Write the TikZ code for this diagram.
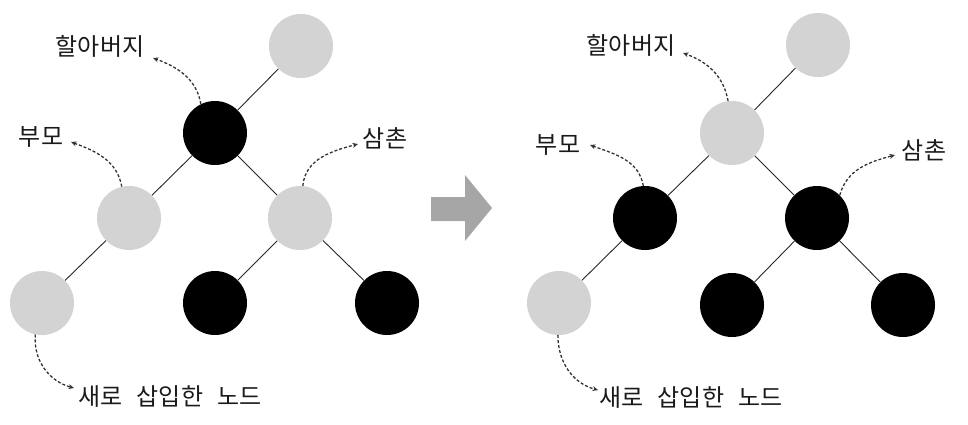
\documentclass[tikz,border=0pt]{standalone}
\usepackage{fontspec}
\newfontfamily\kr{Noto Sans CJK KR}
\usetikzlibrary{arrows.meta}
\definecolor{nodegray}{HTML}{D3D3D3}
\definecolor{arrowgray}{HTML}{A6A6A6}
\definecolor{dashcol}{HTML}{333333}
\definecolor{txtcol}{HTML}{1A1A1A}
\tikzset{
  rbnode/.style={circle, minimum size=64pt, inner sep=0pt, draw=none},
  blk/.style={rbnode, fill=black},
  gry/.style={rbnode, fill=nodegray},
  edge/.style={draw=black!85, line width=0.9pt},
  lbl/.style={font=\kr\fontsize{24}{28}\selectfont, text=txtcol, inner sep=0pt},
  dasharrow/.style={draw=dashcol, line width=1.3pt, dash pattern=on 3pt off 2pt,
    -{Stealth[length=5.5pt,width=5pt]}},
  bigarrow/.style={fill=arrowgray, draw=none}
}
\newcommand{\wsp}{\hspace{14pt}}
\begin{document}
\begin{tikzpicture}[x=1pt,y=1pt]
\useasboundingbox (0,0) rectangle (968,-424);
% ---------- left tree ----------
\node[gry] (Ltop) at (301,-46) {};
\node[blk] (Lgp)  at (215,-133) {};
\node[gry] (Lpar) at (129,-218) {};
\node[gry] (Lunc) at (300,-218) {};
\node[gry] (Lnew) at (42,-303) {};
\node[blk] (Lc1)  at (215,-303) {};
\node[blk] (Lc2)  at (387,-303) {};
\draw[edge] (Lgp) -- (Ltop);
\draw[edge] (Lgp) -- (Lpar);
\draw[edge] (Lgp) -- (Lunc);
\draw[edge] (Lpar) -- (Lnew);
\draw[edge] (Lunc) -- (Lc1);
\draw[edge] (Lunc) -- (Lc2);
\node[lbl] (LlGP)  at (100,-46) {할아버지};
\node[lbl] (LlPar) at (41,-137) {부모};
\node[lbl] (LlUnc) at (385,-138) {삼촌};
\node[lbl] (LlNew) at (170,-397) {새로\wsp 삽입한\wsp 노드};
\coordinate (LtGP)  at (153,-58);
\coordinate (LtPar) at (71,-142);
\coordinate (LtUnc) at (358,-144);
\coordinate (LtNew) at (74,-388);
\draw[dasharrow] (Lgp.116) to[out=100,in=-20] (LtGP);
\draw[dasharrow] (Lpar.103) to[out=100,in=-20] (LtPar);
\draw[dasharrow] (Lunc.85) to[out=85,in=195] (LtUnc);
\draw[dasharrow] (Lnew.258) to[out=-95,in=165] (LtNew);
% ---------- middle arrow ----------
\fill[bigarrow] (431,-197) -- (465,-197) -- (465,-175) -- (492,-208)
  -- (465,-241) -- (465,-221) -- (431,-221) -- cycle;
% ---------- right tree ----------
\node[gry] (Rtop) at (818,-45) {};
\node[gry] (Rgp)  at (732,-133) {};
\node[blk] (Rpar) at (645,-218) {};
\node[blk] (Runc) at (817,-218) {};
\node[gry] (Rnew) at (559,-303) {};
\node[blk] (Rc1)  at (732,-305) {};
\node[blk] (Rc2)  at (903,-305) {};
\draw[edge] (Rgp) -- (Rtop);
\draw[edge] (Rgp) -- (Rpar);
\draw[edge] (Rgp) -- (Runc);
\draw[edge] (Rpar) -- (Rnew);
\draw[edge] (Runc) -- (Rc1);
\draw[edge] (Runc) -- (Rc2);
\node[lbl] (RlGP)  at (631,-45) {할아버지};
\node[lbl] (RlPar) at (558,-145) {부모};
\node[lbl] (RlUnc) at (924,-150) {삼촌};
\node[lbl] (RlNew) at (691,-398) {새로\wsp 삽입한\wsp 노드};
\coordinate (RtGP)  at (683,-53);
\coordinate (RtPar) at (590,-145);
\coordinate (RtUnc) at (895,-155);
\coordinate (RtNew) at (598,-390);
\draw[dasharrow] (Rgp.97) to[out=100,in=-20] (RtGP);
\draw[dasharrow] (Rpar.93) to[out=100,in=-20] (RtPar);
\draw[dasharrow] (Runc.45) to[out=75,in=195] (RtUnc);
\draw[dasharrow] (Rnew.268) to[out=-90,in=165] (RtNew);
\end{tikzpicture}
\end{document}
